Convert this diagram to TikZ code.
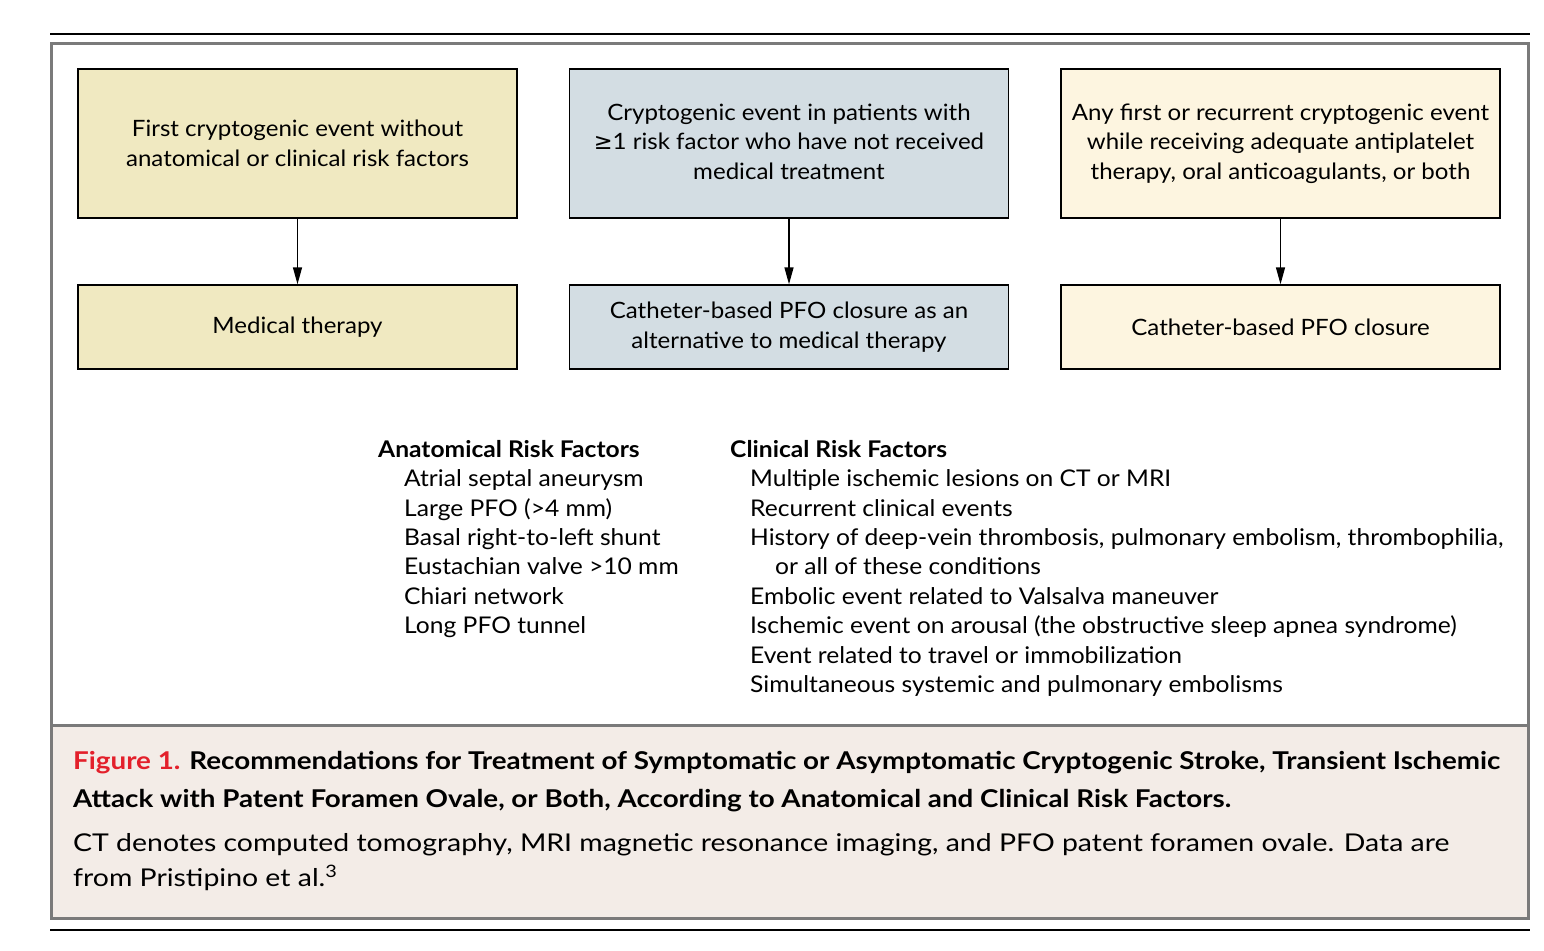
\documentclass[tikz,border=0pt]{standalone}
\usepackage{fontspec}
\setmainfont{Lato}
\newfontfamily\boxfont{Lato}[FakeStretch=1.07]
\newfontfamily\listfont{Lato}[FakeStretch=1.07]
\newfontfamily\capfont{Lato}[FakeStretch=1.16]
\newfontfamily\captitlefont{Lato}[FakeStretch=1.133]
\newfontfamily\symfont{DejaVu Sans}
\usetikzlibrary{arrows.meta}
\definecolor{khaki}{HTML}{F0E9C1}
\definecolor{bluegray}{HTML}{D3DDE3}
\definecolor{cream}{HTML}{FDF5E0}
\definecolor{capbg}{HTML}{F3ECE7}
\definecolor{framegray}{HTML}{7A7A7A}
\definecolor{figred}{HTML}{E3202B}
\tikzset{
  box/.style={draw=black, line width=1.4pt, minimum width=439pt, align=center,
    font=\boxfont\fontsize{22.5}{29.5}\selectfont, inner sep=0pt},
  topbox/.style={box, minimum height=149pt},
  lowbox/.style={box, minimum height=84pt},
  arr/.style={line width=1.4pt, -{Triangle[length=17pt,width=9pt]}},
  listtext/.style={anchor=north west, align=left, inner sep=0pt,
    font=\listfont\fontsize{23}{29.4}\selectfont},
}
\begin{document}
\begin{tikzpicture}[x=1pt,y=-1pt]
\useasboundingbox (0,0) rectangle (1544,950);
\fill[white] (0,0) rectangle (1544,950);
% rules and frame
\draw[line width=2pt] (50,34) -- (1530,34);
\draw[line width=2pt] (50,930) -- (1530,930);
\fill[capbg] (51,725) rectangle (1528,918);
\draw[framegray, line width=3pt] (51,44) rectangle (1528,918);
\draw[framegray, line width=3pt] (51,725) -- (1528,725);
% boxes
\node[topbox, fill=khaki] (b1) at (297.5,143.5) {First cryptogenic event without\\anatomical or clinical risk factors};
\node[topbox, fill=bluegray] (b2) at (789,143.5) {Cryptogenic event in patients with\\\smash{\symfont ≥}1 risk factor who have not received\\medical treatment\vphantom{y}};
\node[topbox, fill=cream] (b3) at (1280.5,143.5) {Any first or recurrent cryptogenic event\\while receiving adequate antiplatelet\\therapy, oral anticoagulants, or both};
\node[lowbox, fill=khaki] (m1) at (297.5,327) {Medical therapy};
\node[lowbox, fill=bluegray] (m2) at (789,327) {\raisebox{0pt}[0pt][0pt]{}\vphantom{y}Catheter-based PFO closure as an\\alternative to medical therapy};
\node[lowbox, fill=cream] (m3) at (1280.5,327) {Catheter-based PFO closure};
\draw[arr] (b1.south) -- (m1.north);
\draw[arr] (b2.south) -- (m2.north);
\draw[arr] (b3.south) -- (m3.north);
% risk factor lists
\node[listtext] (anat) at (378,440) {\textbf{Anatomical Risk Factors}\\
\hspace*{26pt}Atrial septal aneurysm\\
\hspace*{26pt}Large PFO (>4 mm)\\
\hspace*{26pt}Basal right-to-left shunt\\
\hspace*{26pt}Eustachian valve >10 mm\\
\hspace*{26pt}Chiari network\\
\hspace*{26pt}Long PFO tunnel};
\node[listtext] (clin) at (730,440) {\textbf{Clinical Risk Factors}\\
\hspace*{20pt}Multiple ischemic lesions on CT or MRI\\
\hspace*{20pt}Recurrent clinical events\\
\hspace*{20pt}History of deep-vein thrombosis, pulmonary embolism, thrombophilia,\\
\hspace*{45pt}or all of these conditions\\
\hspace*{20pt}Embolic event related to Valsalva maneuver\\
\hspace*{20pt}Ischemic event on arousal (the obstructive sleep apnea syndrome)\\
\hspace*{20pt}Event related to travel or immobilization\\
\hspace*{20pt}Simultaneous systemic and pulmonary embolisms};
% caption
\node[anchor=north west, align=left, inner sep=0pt, font=\captitlefont\fontsize{24.5}{38}\selectfont\bfseries] (captitle) at (73,751)
  {{\color{figred}Figure 1.} Recommendations for Treatment of Symptomatic or Asymptomatic Cryptogenic Stroke, Transient Ischemic\\
   Attack with Patent Foramen Ovale, or Both, According to Anatomical and Clinical Risk Factors.};
\node[anchor=north west, align=left, inner sep=0pt, font=\capfont\fontsize{24.5}{35}\selectfont] (capbody) at (73,833)
  {CT denotes computed tomography, MRI magnetic resonance imaging, and PFO patent foramen ovale. Data are\\
   from Pristipino et al.\textsuperscript{3}};
\end{tikzpicture}
\end{document}
